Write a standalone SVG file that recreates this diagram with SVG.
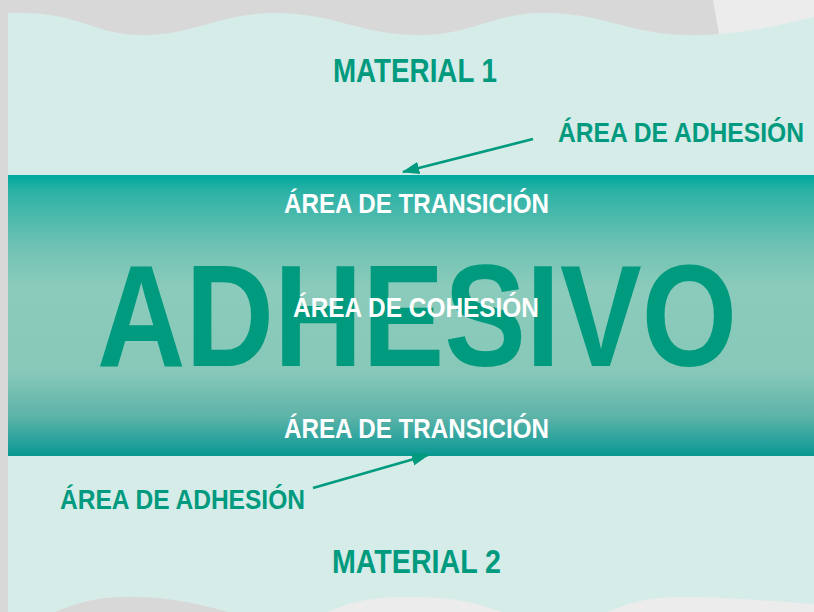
<svg xmlns="http://www.w3.org/2000/svg" width="814" height="612" viewBox="0 0 814 612">
<style>
.lbl{font-family:"Liberation Sans","DejaVu Sans",sans-serif;font-weight:bold;font-size:28px;fill:#009a7f}
.mat{font-family:"Liberation Sans","DejaVu Sans",sans-serif;font-weight:bold;font-size:33px;fill:#009a7f}
.wht{font-family:"Liberation Sans","DejaVu Sans",sans-serif;font-weight:bold;font-size:28px;fill:#ffffff}
.big{font-family:"Liberation Sans","DejaVu Sans",sans-serif;font-weight:bold;font-size:145px;fill:#009a7f}
.conn{stroke:#009a7f;stroke-width:2.5;fill:none}
</style>
<defs>
<linearGradient id="band" x1="0" y1="175" x2="0" y2="456" gradientUnits="userSpaceOnUse">
<stop offset="0" stop-color="#00a89f"/>
<stop offset="0.06" stop-color="#2db2a6"/>
<stop offset="0.25" stop-color="#6ec2b3"/>
<stop offset="0.4" stop-color="#8bcbbb"/>
<stop offset="0.7" stop-color="#87c8b9"/>
<stop offset="0.86" stop-color="#5db3a8"/>
<stop offset="0.96" stop-color="#20a09a"/>
<stop offset="1" stop-color="#07978f"/>
</linearGradient>
<marker id="ah" markerWidth="7" markerHeight="5" refX="6.5" refY="2.5" orient="auto" markerUnits="strokeWidth">
<path d="M0,0 L7,2.5 L0,5 z" fill="#009a7f"/>
</marker>
</defs>
<rect x="0" y="0" width="814" height="612" fill="#d9d8d9"/>
<path d="M713,0 L814,0 L814,30 L721,45 Z" fill="#ececec"/>
<path d="M8,13 L22,13 C80,13 95,35 142,35 C195,35 220,13 275,13 C335,13 360,35 418,35 C475,35 490,13 545,13 C605,13 630,35 690,35 C740,35 775,26 814,17 L814,612 L8,612 Z" fill="#d5ece8"/>
<path d="M55,612 C85,600 100,597 130,597 C160,597 185,600 228,612 Z" fill="#d9d8d9"/>
<path d="M328,612 C355,600 375,597 410,597 C445,597 470,600 502,612 Z" fill="#ececec"/>
<path d="M608,612 C635,600 655,597 685,597 C720,597 760,600 814,604 L814,612 Z" fill="#ececec"/>
<g id="band-adhesivo">
<rect x="8" y="175" width="806" height="281" fill="url(#band)"/>
<text class="big" x="97" y="366" textLength="640" lengthAdjust="spacingAndGlyphs">ADHESIVO</text>
</g>
<g id="material1"><text class="mat" x="333" y="82" textLength="164" lengthAdjust="spacingAndGlyphs">MATERIAL 1</text></g>
<g id="material2"><text class="mat" x="332" y="573" textLength="169" lengthAdjust="spacingAndGlyphs">MATERIAL 2</text></g>
<g id="adhesion-top"><text class="lbl" x="558" y="142" textLength="246" lengthAdjust="spacingAndGlyphs">ÁREA DE ADHESIÓN</text></g>
<g id="adhesion-bottom"><text class="lbl" x="60" y="509" textLength="245" lengthAdjust="spacingAndGlyphs">ÁREA DE ADHESIÓN</text></g>
<g id="transicion-top"><text class="wht" x="284" y="213" textLength="265" lengthAdjust="spacingAndGlyphs">ÁREA DE TRANSICIÓN</text></g>
<g id="cohesion"><text class="wht" x="293" y="317" textLength="246" lengthAdjust="spacingAndGlyphs">ÁREA DE COHESIÓN</text></g>
<g id="transicion-bottom"><text class="wht" x="284" y="438" textLength="265" lengthAdjust="spacingAndGlyphs">ÁREA DE TRANSICIÓN</text></g>
<g id="connectors">
<line class="conn" x1="533" y1="139" x2="403" y2="172" marker-end="url(#ah)"/>
<line class="conn" x1="313" y1="488" x2="428" y2="455" marker-end="url(#ah)"/>
</g>
</svg>
